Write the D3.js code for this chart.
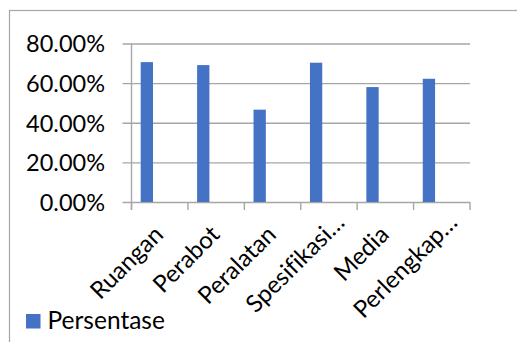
<!DOCTYPE html>
<html><head><meta charset="utf-8">
<script src="https://cdn.jsdelivr.net/npm/d3@7"></script>
<style>html,body{margin:0;padding:0;background:#fff;overflow:hidden}
text{font-variant-ligatures:none;font-feature-settings:"liga" 0}</style>
</head><body>
<svg id="c" width="517" height="342"></svg>
<script>
const categories = ["Ruangan", "Perabot", "Peralatan", "Spesifikasi…", "Media", "Perlengkap…"];
const values = [0.706, 0.691, 0.466, 0.703, 0.580, 0.622];
const yTicks = [0, 0.2, 0.4, 0.6, 0.8];
const seriesName = "Persentase";

(function () {
const FONT = "Lato, 'Open Sans', sans-serif";
const svg = d3.select("#c");
const pLeft = 131.5, pRight = 470, pTop = 43.5, pBottom = 202;
const x = d3.scaleBand().domain(categories).range([pLeft, pRight]).padding(0);
const y = d3.scaleLinear().domain([0, 0.8]).range([pBottom, pTop]);
const gridColor = "#a6a6a6";

svg.append("rect").attr("x", 9.5).attr("y", 10.5).attr("width", 540).attr("height", 360)
  .attr("fill", "none").attr("stroke", "#a6a6a6").attr("stroke-width", 1.2);

const yAxis = d3.axisLeft(y).tickValues(yTicks).tickFormat(d3.format(".2%")).tickSize(0).tickPadding(26.5);
const gy = svg.append("g").attr("transform", `translate(${pLeft},0)`).call(yAxis);
gy.select(".domain").remove();
gy.selectAll(".tick line").attr("x1", -9).attr("x2", pRight - pLeft)
  .attr("stroke", gridColor).attr("stroke-width", 1.4);
gy.selectAll(".tick text").attr("font-family", FONT).attr("font-size", 23.5)
  .attr("fill", "#000").attr("dy", "0.36em");

svg.append("line").attr("x1", pLeft).attr("x2", pLeft).attr("y1", pTop).attr("y2", pBottom + 8)
  .attr("stroke", gridColor).attr("stroke-width", 1.4);

const edges = categories.map(c => x(c)).concat([pRight]);
svg.append("g").selectAll("line").data(edges).join("line")
  .attr("x1", d => d).attr("x2", d => d).attr("y1", pBottom).attr("y2", pBottom + 8)
  .attr("stroke", gridColor).attr("stroke-width", 1.4);

const bw = x.bandwidth();
svg.append("g").selectAll("rect").data(categories).join("rect")
  .attr("x", d => x(d) + bw * 0.163)
  .attr("width", bw * 0.218)
  .attr("y", (d, i) => y(values[i]))
  .attr("height", (d, i) => pBottom - y(values[i]))
  .attr("fill", "#4472c4");

const xl = svg.append("g");
categories.forEach(c => {
  const cx = x(c) + bw / 2;
  const extra = c.endsWith("…") ? 17 : 0;
  xl.append("text")
    .attr("transform", `translate(${cx + 5},${pBottom + 34}) rotate(-45) translate(${extra},0)`)
    .attr("text-anchor", "end").attr("font-family", FONT).attr("font-size", 24)
    .attr("fill", "#000").text(c);
});

svg.append("rect").attr("x", 26).attr("y", 314).attr("width", 14.5).attr("height", 14.5).attr("fill", "#4472c4");
svg.append("text").attr("x", 47.5).attr("y", 328.5).attr("font-family", FONT).attr("font-size", 24.5)
  .attr("fill", "#000").text(seriesName);
})();
</script>
</body></html>
